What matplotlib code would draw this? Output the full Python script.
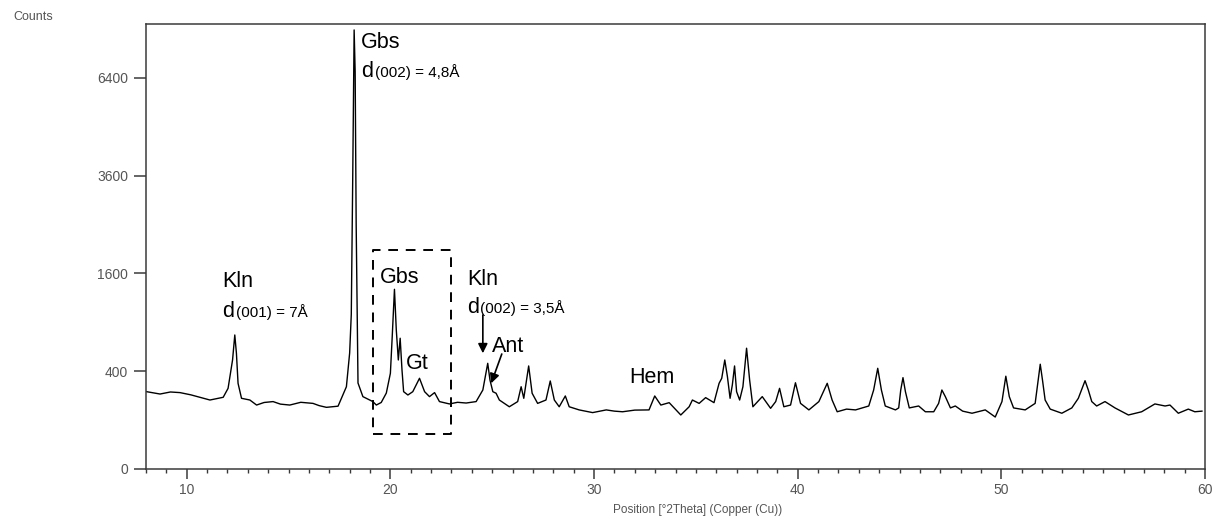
import numpy as np
import matplotlib
matplotlib.use("Agg")
import matplotlib.pyplot as plt
from matplotlib.ticker import FixedLocator, MultipleLocator
from matplotlib.transforms import offset_copy

plt.rcParams['font.family'] = ['Liberation Sans', 'DejaVu Sans']

# ---- data (2theta in degrees, counts) ----
two_theta = [
    8.03, 8.69, 9.20, 9.67, 10.20, 10.65, 11.14, 11.79, 12.03, 12.25, 12.36, 12.44, 12.52, 12.69,
    13.10, 13.43, 13.80, 14.24, 14.60, 15.06, 15.60, 16.20, 16.50, 16.86, 17.43, 17.84, 18.00, 18.08,
    18.15, 18.22, 18.27, 18.32, 18.41, 18.65, 19.14, 19.31, 19.55, 19.80, 20.00, 20.09, 20.20,
    20.29, 20.39, 20.48, 20.57, 20.65, 20.86, 21.10, 21.43, 21.68, 21.92, 22.17, 22.41,
    22.90, 23.30, 23.72, 24.21, 24.54, 24.78, 24.89, 25.03, 25.19, 25.35, 25.84, 26.25, 26.42,
    26.55, 26.79, 26.96, 27.23, 27.64, 27.85, 28.05, 28.29, 28.59, 28.78, 29.27, 29.93,
    30.60, 31.00, 31.40, 32.00, 32.70, 32.98, 33.28, 33.69, 34.26, 34.67, 34.83, 35.16, 35.48, 35.89,
    36.14, 36.27, 36.42, 36.55, 36.68, 36.79, 36.90, 37.00, 37.15, 37.31, 37.49, 37.64,
    37.80, 38.26, 38.67, 38.92, 39.11, 39.32, 39.65, 39.89, 40.14, 40.55, 41.04, 41.45,
    41.69, 41.94, 42.40, 42.84, 43.49, 43.73, 43.93, 44.11, 44.30, 44.80, 44.96, 45.06, 45.17,
    45.29, 45.48, 45.94, 46.27, 46.68, 46.92, 47.08, 47.25, 47.50, 47.74, 48.10, 48.56, 49.21,
    49.70, 50.03, 50.22, 50.39, 50.60, 51.17, 51.66, 51.91, 52.02, 52.15, 52.40, 52.97,
    53.46, 53.78, 54.11, 54.27, 54.44, 54.68, 55.09, 55.58, 56.24, 56.89, 57.54, 58.04,
    58.28, 58.69, 59.18, 59.50, 59.85,
]
counts = [
    250, 235, 248, 244, 230, 215, 199, 215, 272, 497, 751, 560, 307, 209,
    199, 171, 185, 190, 176, 171, 186, 180, 168, 159, 165, 283, 563, 1000,
    3500, 8060, 6600, 2500, 309, 219, 190, 171, 185, 241, 383, 732, 1350,
    808, 497, 715, 410, 250, 229, 250, 344, 250, 219, 244, 190,
    177, 186, 182, 190, 261, 467, 331, 250, 240, 199, 162, 190, 283,
    209, 444, 240, 180, 199, 324, 199, 162, 223, 162, 146, 133,
    146, 140, 137, 145, 146, 223, 171, 184, 122, 162, 199, 180, 213, 184,
    307, 344, 497, 356, 209, 295, 444, 250, 199, 283, 610, 331,
    162, 219, 154, 190, 272, 162, 171, 311, 180, 146, 190, 307,
    199, 137, 150, 146, 166, 261, 424, 261, 166, 146, 156, 261, 349,
    250, 156, 166, 137, 137, 180, 261, 219, 156, 166, 140, 130, 146,
    113, 190, 360, 219, 156, 146, 180, 459, 331, 199, 150, 130,
    156, 209, 326, 261, 190, 166, 190, 156, 122, 137, 177, 166,
    171, 130, 150, 137, 140,
]

y_ticks = [0, 400, 1600, 3600, 6400]
x_ticks = [10, 20, 30, 40, 50, 60]

# ---- figure ----
fig = plt.figure(figsize=(12.16, 5.29), dpi=100)
ax = fig.add_axes([146/1216, 1 - 469/529, (1205 - 146)/1216, (469 - 24)/529])

fwd = lambda v: np.sqrt(np.clip(v, 0, None))
inv = lambda v: np.square(v)
ax.set_yscale('function', functions=(fwd, inv))

ax.plot(two_theta, counts, color='black', lw=1.0)

ax.set_xlim(8, 60)
ax.set_ylim(0, 8280)

ax.xaxis.set_major_locator(FixedLocator(x_ticks))
ax.xaxis.set_minor_locator(MultipleLocator(1))
ax.yaxis.set_major_locator(FixedLocator(y_ticks))
ax.yaxis.set_minor_locator(FixedLocator([]))
ax.set_yticklabels([str(t) for t in y_ticks])
ax.set_xticklabels([str(t) for t in x_ticks])

tick_col = '#555555'
spine_col = '#3a3a3a'
for s in ax.spines.values():
    s.set_color(spine_col)
    s.set_linewidth(1.1)
ax.tick_params(axis='x', which='major', direction='out', length=7.5, width=1.1,
               color=spine_col, labelcolor=tick_col, labelsize=10, pad=2.5)
ax.tick_params(axis='x', which='minor', direction='out', length=3, width=1.0,
               color=spine_col)
ax.tick_params(axis='y', which='major', direction='out', length=9, width=1.1,
               color=spine_col, labelcolor=tick_col, labelsize=10, pad=4)

fig.text(13/1216, 1 - 20/529, 'Counts', fontsize=9, color=tick_col, ha='left', va='baseline')
fig.text(698/1216, 1 - 513/529, 'Position [°2Theta] (Copper (Cu))', fontsize=8.5,
         color=tick_col, ha='center', va='baseline')

# ---- annotations ----
big = 15.5
small = 11


def d_label(x, y, rest, dx=13):
    ax.text(x, y, 'd', fontsize=big, ha='left', va='baseline')
    tr = offset_copy(ax.transData, fig=fig, x=dx, y=0, units='dots')
    ax.text(x, y, rest, fontsize=small, ha='left', va='baseline', transform=tr)


ax.text(11.76, 1385, 'Kln', fontsize=big, ha='left', va='baseline')
d_label(11.76, 970, '(001) = 7Å')

ax.text(18.57, 7400, 'Gbs', fontsize=big, ha='left', va='baseline')
d_label(18.57, 6435, '(002) = 4,8Å', dx=14)

ax.text(19.47, 1442, 'Gbs', fontsize=big, ha='left', va='baseline')
ax.text(20.78, 416, 'Gt', fontsize=big, ha='left', va='baseline')

ax.text(23.77, 1416, 'Kln', fontsize=big, ha='left', va='baseline')
d_label(23.77, 1014, '(002) = 3,5Å')

ax.text(24.99, 575, 'Ant', fontsize=big, ha='left', va='baseline')
ax.text(31.73, 307, 'Hem', fontsize=big, ha='left', va='baseline')

arrow = dict(arrowstyle='-|>', color='black', lw=1.2, mutation_scale=14,
             shrinkA=0, shrinkB=0)
ax.annotate('', xy=(24.54, 560), xytext=(24.54, 992), arrowprops=arrow)
ax.annotate('', xy=(24.95, 307), xytext=(25.47, 553), arrowprops=arrow)

# dashed box around the Gbs/Gt region
box_x0, box_x1 = 19.14, 22.99
box_y0, box_y1 = 51, 2006
ax.plot([box_x0, box_x1, box_x1, box_x0, box_x0],
        [box_y0, box_y0, box_y1, box_y1, box_y0],
        color='black', lw=1.4, ls=(0, (5, 4)))

fig.savefig('out.png', dpi=100)
